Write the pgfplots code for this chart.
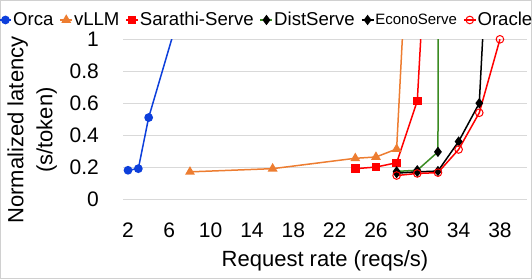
\documentclass[border=0pt]{standalone}
\usepackage{fontspec}
\setmainfont{Liberation Sans}
\usepackage{pgfplots}
\pgfplotsset{compat=1.18}
\definecolor{orcablue}{HTML}{0D3FDB}
\definecolor{vorange}{HTML}{ED7D31}
\definecolor{dgreen}{HTML}{3A8B22}
\definecolor{gridgray}{HTML}{D9D9D9}
\definecolor{framegray}{HTML}{D0D0D0}
\begin{document}
\begin{tikzpicture}[x=1bp,y=1bp]
\useasboundingbox (0,0) rectangle (532,279);
\draw[framegray, line width=0.8bp] (0.4,0.4) rectangle (531.6,278.6);
\begin{axis}[
  at={(123bp,80bp)}, anchor=south west,
  scale only axis, width=404bp, height=159.7bp,
  xmin=1.516, xmax=40.62, ymin=0, ymax=1,
  xtick={2,6,10,14,18,22,26,30,34,38},
  ytick={0,0.2,0.4,0.6,0.8,1},
  yticklabels={0,0.2,0.4,0.6,0.8,1},
  ymajorgrids, grid style={gridgray, line width=0.8bp},
  axis line style={draw=none}, major tick style={draw=none},
  /pgf/number format/assume math mode=true,
  tick label style={font=\fontsize{21bp}{21bp}\selectfont},
  xticklabel style={inner sep=0pt, anchor=north, yshift=-24bp},
  yticklabel style={inner sep=0pt, anchor=east, xshift=-24bp},
  xlabel={Request rate (reqs/s)},
  xlabel style={at={(axis description cs:0.5,-0.388)}, anchor=center, font=\fontsize{22bp}{22bp}\selectfont},
  ylabel={Normalized latency\\(s/token)},
  ylabel style={at={(axis description cs:-0.225,0.432)}, anchor=center, align=center, font=\fontsize{22bp}{29bp}\selectfont},
  legend style={at={(0.354,1.121)}, anchor=center, draw=none, fill=none,
    font=\fontsize{18.6bp}{18.6bp}\selectfont, legend columns=-1,
    /tikz/every even column/.append style={column sep=5bp},
    nodes={inner sep=1bp}},
  legend image code/.code={\draw[mark repeat=2,mark phase=2] plot coordinates {(0bp,0bp) (6bp,0bp) (12bp,0bp)};},
  every axis plot/.append style={line width=1.5bp},
]
\addplot[color=orcablue, mark=*, mark size=3.6bp] coordinates {(2,0.18) (3,0.19) (4,0.51) (8,1.39)};
\addlegendentry{Orca}
\addplot[color=vorange, mark=triangle*, mark size=4.2bp] coordinates {(8,0.17) (16,0.19) (24,0.255) (26,0.263) (28,0.313) (30,2.81)};
\addlegendentry{vLLM}
\addplot[color=red, mark=square*, mark size=3.5bp] coordinates {(24,0.19) (26,0.20) (28,0.227) (30,0.614) (32,2.95)};
\addlegendentry{Sarathi-Serve}
\addplot[color=dgreen, mark=diamond*, mark size=4bp, mark options={fill=black, draw=black}] coordinates {(28,0.173) (30,0.18) (32,0.295) (34,60)};
\addlegendentry{DistServe}
\addplot[color=black, mark=diamond*, mark size=4bp] coordinates {(28,0.162) (30,0.17) (32,0.175) (34,0.36) (36,0.60) (38,3.07)};
\addlegendentry{\fontsize{15bp}{15bp}\selectfont EconoServe}
\addplot[color=red, mark=o, mark size=3.8bp, mark options={fill=white, line width=1bp}] coordinates {(28,0.147) (30,0.16) (32,0.165) (34,0.31) (36,0.54) (38,1.0)};
\addlegendentry{Oracle}
\end{axis}
\end{tikzpicture}
\end{document}
